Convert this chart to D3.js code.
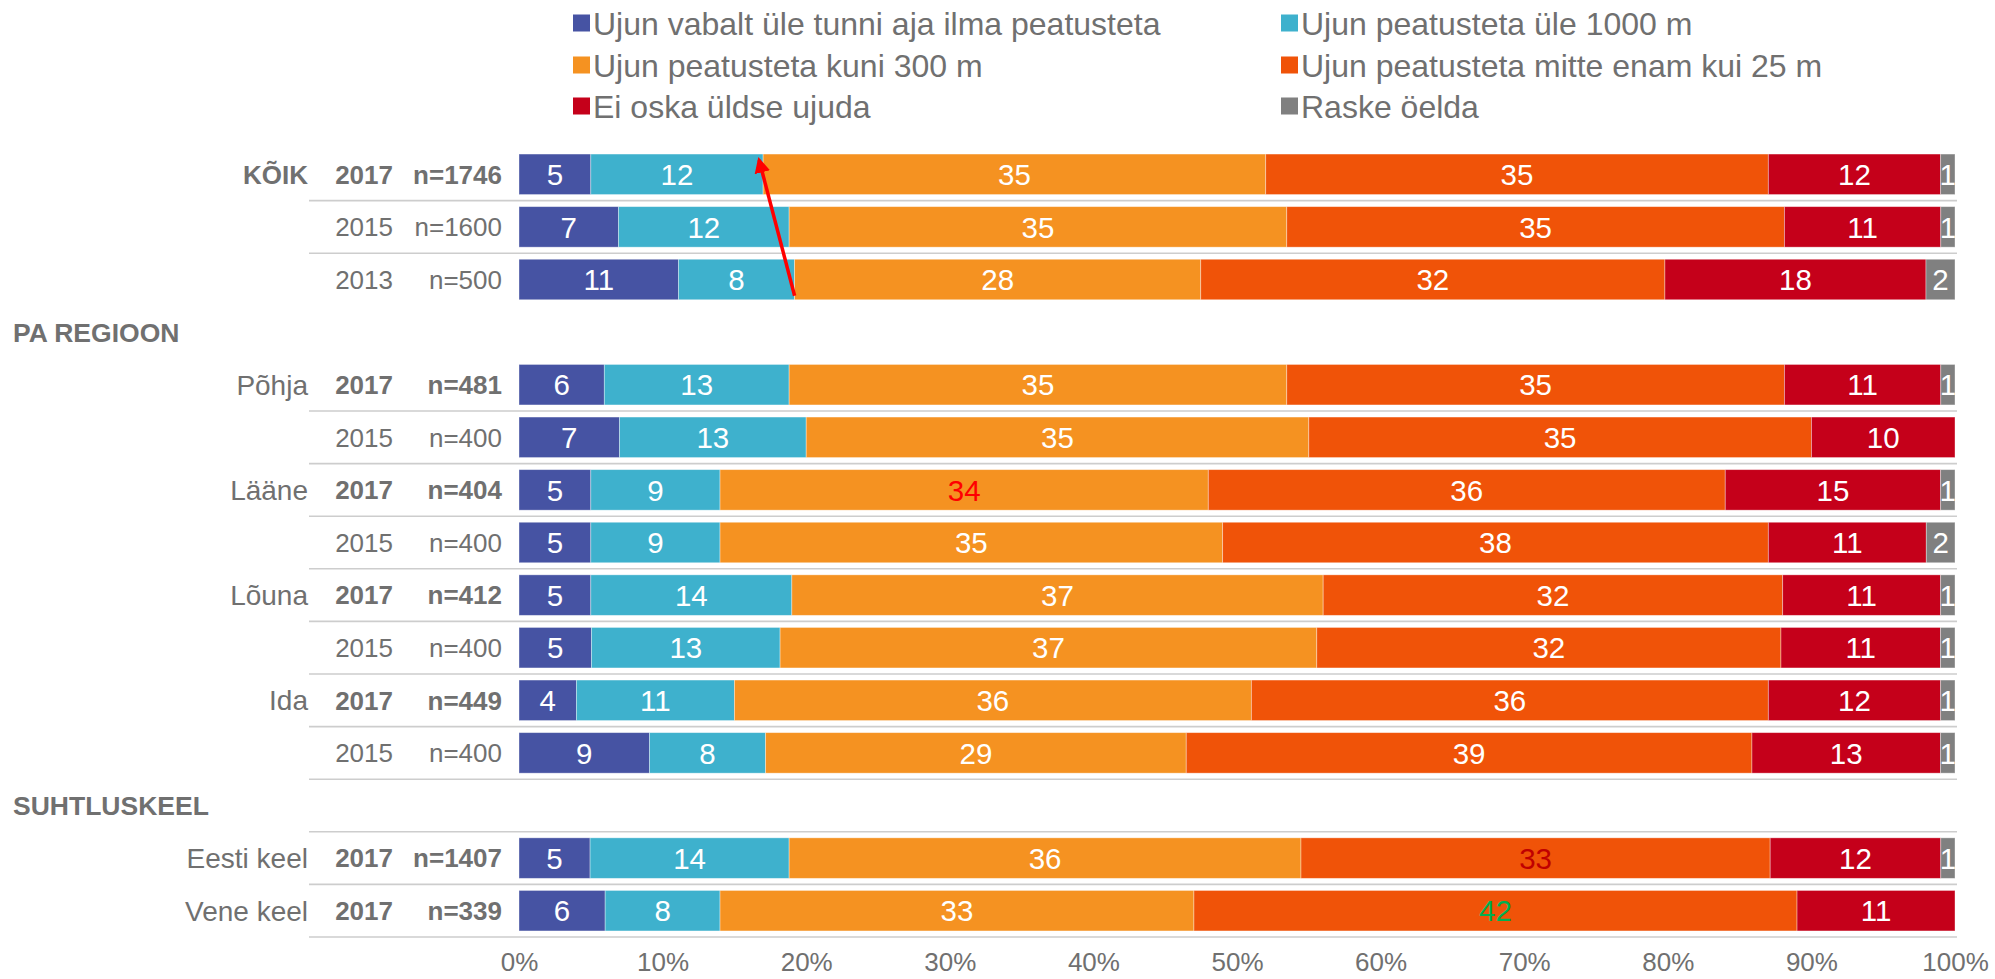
<!DOCTYPE html>
<html>
<head>
<meta charset="utf-8">
<script src="https://cdn.jsdelivr.net/npm/d3@7/dist/d3.min.js"></script>
<style>
  html, body { margin: 0; padding: 0; background: #fff; }
  svg { display: block; font-family: "Liberation Sans", Arial, sans-serif; }
</style>
</head>
<body>
<svg id="chart" width="1995" height="979"></svg>
<script>
// Swimming ability, 100% stacked bars by survey year, region and language
const seriesNames = [
  "Ujun vabalt üle tunni aja ilma peatusteta",
  "Ujun peatusteta üle 1000 m",
  "Ujun peatusteta kuni 300 m",
  "Ujun peatusteta mitte enam kui 25 m",
  "Ei oska üldse ujuda",
  "Raske öelda"
];
const seriesColors = ["#4653A3", "#3EB1CD", "#F59221", "#F05308", "#C5001A", "#808080"];

// one entry per row; section header rows carry null values
const groupLabels = ["KÕIK", "", "", "", "Põhja", "", "Lääne", "", "Lõuna", "", "Ida", "", "", "Eesti keel", "Vene keel"];
const sectionHeaders = ["", "", "", "PA REGIOON", "", "", "", "", "", "", "", "", "SUHTLUSKEEL", "", ""];
const years = ["2017", "2015", "2013", "", "2017", "2015", "2017", "2015", "2017", "2015", "2017", "2015", "", "2017", "2017"];
const sampleSizes = ["n=1746", "n=1600", "n=500", "", "n=481", "n=400", "n=404", "n=400", "n=412", "n=400", "n=449", "n=400", "", "n=1407", "n=339"];

const vabalt      = [5, 7, 11, null, 6, 7, 5, 5, 5, 5, 4, 9, null, 5, 6];
const ule1000     = [12, 12, 8, null, 13, 13, 9, 9, 14, 13, 11, 8, null, 14, 8];
const kuni300     = [35, 35, 28, null, 35, 35, 34, 35, 37, 37, 36, 29, null, 36, 33];
const kuni25      = [35, 35, 32, null, 35, 35, 36, 38, 32, 32, 36, 39, null, 33, 42];
const eiOska      = [12, 11, 18, null, 11, 10, 15, 11, 11, 11, 12, 13, null, 12, 11];
const raskeOelda  = [1, 1, 2, null, 1, 0, 1, 2, 1, 1, 1, 1, null, 1, 0];

const seriesValues = [vabalt, ule1000, kuni300, kuni25, eiOska, raskeOelda];

// rows followed by a thin rule
const rulesAfter = [0, 1, 4, 5, 6, 7, 8, 9, 10, 11, 12, 13, 14];
// value labels drawn in a highlight colour: [row, series, colour]
const labelHighlights = [[6, 2, "#FF0000"], [13, 3, "#C00000"], [14, 3, "#00B050"]];
const xTicks = [0, 0.1, 0.2, 0.3, 0.4, 0.5, 0.6, 0.7, 0.8, 0.9, 1];

const textColor = "#707070";
const svg = d3.select("#chart");

const x = d3.scaleLinear().domain([0, 1]).range([519, 1955]);
const rowIdx = d3.range(groupLabels.length);
const y = d3.scaleBand().domain(rowIdx).range([148, 937]).paddingInner(0.23).paddingOuter(0.115);

// table for the stack
const table = rowIdx.filter(i => vabalt[i] !== null).map(i => {
  const o = { row: i };
  seriesNames.forEach((s, k) => { o[k] = seriesValues[k][i]; });
  return o;
});
const stacked = d3.stack().keys(d3.range(seriesNames.length)).offset(d3.stackOffsetExpand)(table);

// row rules
const step = y.step();
const ruleY = d => y(d) + y.bandwidth() + (step - y.bandwidth()) / 2;
svg.append("g").selectAll("line").data(rulesAfter).join("line")
  .attr("x1", 309).attr("x2", 1957)
  .attr("y1", ruleY).attr("y2", ruleY)
  .attr("stroke", "#cdcdcd").attr("stroke-width", 1.6);

// bars
const layers = svg.append("g").selectAll("g").data(stacked).join("g")
  .attr("fill", d => seriesColors[d.key]);
layers.selectAll("rect").data(d => d.filter(p => p.data[d.key] > 0)).join("rect")
  .attr("x", d => x(d[0]))
  .attr("y", d => y(d.data.row))
  .attr("width", d => x(d[1]) - x(d[0]))
  .attr("height", y.bandwidth())
  .attr("stroke", "#ffffff").attr("stroke-opacity", 0.45).attr("stroke-width", 0.8);

// value labels
const hl = new Map(labelHighlights.map(h => [h[0] + "-" + h[1], h[2]]));
layers.each(function(layer) {
  d3.select(this).selectAll("text").data(layer.filter(p => p.data[layer.key] > 0)).join("text")
    .attr("x", d => (x(d[0]) + x(d[1])) / 2)
    .attr("y", d => y(d.data.row) + y.bandwidth() / 2)
    .attr("dy", "0.36em")
    .attr("text-anchor", "middle")
    .attr("font-size", 29.5)
    .attr("fill", d => hl.get(d.data.row + "-" + layer.key) || "#ffffff")
    .text(d => d.data[layer.key]);
});

// left-hand labels
const labels = svg.append("g").attr("fill", textColor).attr("font-size", 26);
const mid = i => y(i) + y.bandwidth() / 2;
labels.selectAll(".grp").data(rowIdx.filter(i => groupLabels[i])).join("text")
  .attr("class", "grp")
  .attr("x", 308).attr("y", mid).attr("dy", "0.36em").attr("text-anchor", "end")
  .attr("font-weight", i => i === 0 ? "bold" : "normal")
  .attr("font-size", i => i === 0 ? 26 : 28)
  .text(i => groupLabels[i]);
labels.selectAll(".sec").data(rowIdx.filter(i => sectionHeaders[i])).join("text")
  .attr("class", "sec")
  .attr("x", 13).attr("y", mid).attr("dy", "0.36em").attr("font-weight", "bold")
  .attr("font-size", 26.5)
  .text(i => sectionHeaders[i]);
labels.selectAll(".yr").data(rowIdx.filter(i => years[i])).join("text")
  .attr("class", "yr")
  .attr("x", 393).attr("y", mid).attr("dy", "0.36em").attr("text-anchor", "end")
  .attr("font-weight", i => years[i] === "2017" ? "bold" : "normal")
  .text(i => years[i]);
labels.selectAll(".n").data(rowIdx.filter(i => sampleSizes[i])).join("text")
  .attr("class", "n")
  .attr("x", 502).attr("y", mid).attr("dy", "0.36em").attr("text-anchor", "end")
  .attr("font-weight", i => years[i] === "2017" ? "bold" : "normal")
  .text(i => sampleSizes[i]);

// percentage axis
const axis = svg.append("g").attr("transform", "translate(0,938)")
  .call(d3.axisBottom(x).tickValues(xTicks).tickFormat(d3.format(".0%")).tickSize(0).tickPadding(15));
axis.select(".domain").remove();
axis.selectAll("text").attr("font-size", 26).attr("fill", textColor)
  .attr("font-family", "\"Liberation Sans\", Arial, sans-serif");

// legend: two columns, three rows
const legend = svg.append("g");
const legendCols = [573, 1281];
const legendRows = [23, 65, 106];
const li = legend.selectAll("g").data(seriesNames).join("g")
  .attr("transform", (d, i) => `translate(${legendCols[i % 2]},${legendRows[Math.floor(i / 2)]})`);
li.append("rect").attr("x", 0).attr("y", -8.5).attr("width", 17).attr("height", 17)
  .attr("fill", (d, i) => seriesColors[i]);
li.append("text").attr("x", 20).attr("y", 0).attr("dy", "0.36em")
  .attr("font-size", 32).attr("fill", textColor).text(d => d);

// change arrow between the 2013 and 2017 totals
const boundary = (rowPos, k) => {
  const layer = stacked[k];
  const p = layer.find(q => q.data.row === rowPos);
  return x(p[1]);
};
svg.append("defs").append("marker")
  .attr("id", "arrowhead").attr("viewBox", "0 0 10 10")
  .attr("refX", 8).attr("refY", 5)
  .attr("markerWidth", 4.5).attr("markerHeight", 4.5)
  .attr("orient", "auto-start-reverse")
  .append("path").attr("d", "M0,0 L10,5 L0,10 Z").attr("fill", "#FF0000");
svg.append("line")
  .attr("x1", boundary(2, 1)).attr("y1", y(2) + y.bandwidth() - 4)
  .attr("x2", boundary(0, 1) - 4).attr("y2", y(0) + 6)
  .attr("stroke", "#FF0000").attr("stroke-width", 3.5)
  .attr("marker-end", "url(#arrowhead)");
</script>
</body>
</html>
